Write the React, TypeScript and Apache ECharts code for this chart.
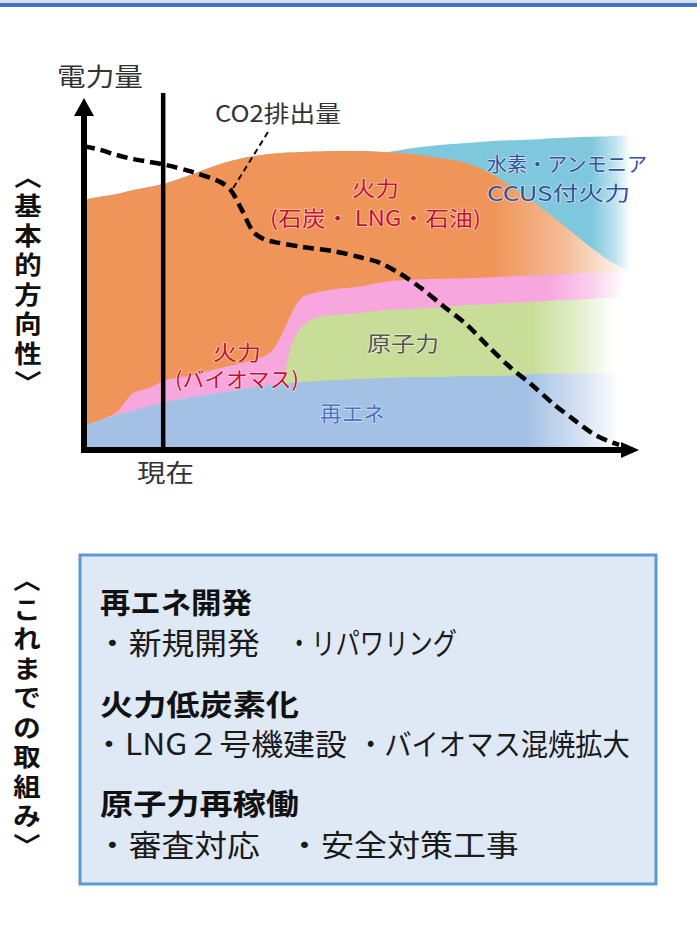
import React, { useEffect, useRef } from 'react';
import * as echarts from 'echarts';

// Horizontal positions (time, 0..100) where each band's upper edge is sampled
const timeSteps = [0, 3, 6, 9, 12, 15, 20, 25, 30, 34, 36, 38, 40, 43, 46, 50, 55, 60, 65, 70, 75, 80, 84, 88, 92, 96, 98, 100];

// Upper edge of each stacked band (electricity volume, 0..100)
const renewableTop = [7.0, 8.7, 10.2, 11.4, 12.8, 14.0, 15.5, 16.6, 18.1, 19.0, 19.2, 19.5, 19.8, 20.1, 20.4, 20.7, 21.0, 21.3, 21.3, 21.6, 21.6, 21.9, 22.2, 22.2, 22.2, 22.2, 22.2, 22.2];
const nuclearTop = [7.0, 8.7, 10.2, 11.4, 12.8, 14.0, 15.5, 16.6, 18.1, 19.0, 19.2, 30.6, 36.2, 38.8, 39.4, 39.9, 40.8, 41.1, 41.7, 42.3, 42.6, 43.1, 43.4, 43.7, 44.0, 44.3, 44.3, 44.5];
const biomassTop = [7.0, 8.7, 11.1, 16.6, 18.1, 20.4, 21.9, 23.9, 25.7, 28.3, 32.9, 39.9, 44.6, 46.1, 46.9, 47.5, 49.0, 49.6, 49.9, 50.1, 50.4, 50.7, 51.0, 51.3, 51.6, 51.9, 52.0, 52.2];
const thermalTop = [72.9, 73.8, 74.6, 75.8, 76.7, 77.8, 80.5, 83.4, 85.4, 86.3, 86.6, 86.7, 86.9, 87.0, 87.2, 87.2, 86.9, 86.3, 85.1, 83.7, 80.2, 74.9, 70.3, 65.3, 60.1, 55.4, 53.6, 52.2];
const hydrogenTop = [72.9, 73.8, 74.6, 75.8, 76.7, 77.8, 80.5, 83.4, 85.4, 86.3, 86.6, 86.7, 86.9, 87.0, 87.2, 87.2, 86.9, 88.0, 88.9, 89.5, 90.1, 90.4, 90.7, 91.0, 91.3, 91.5, 91.7, 91.8];

// CO2 emissions curve [time, level]
const co2Curve: [number, number][] = [
  [0, 88.6], [3, 87.5], [6, 86.0], [9, 84.8], [12, 84.0], [15, 83.1], [20, 81.0], [25, 78.1],
  [27, 75.5], [29, 69.7], [31, 63.6], [33, 61.4], [35, 60.6], [40, 59.2], [46, 57.9], [50, 56.4],
  [54, 54.7], [58, 51.3], [62, 46.9], [66, 41.7], [70, 36.7], [74, 30.3], [78, 24.2], [82, 19.0],
  [86, 13.4], [90, 8.5], [93, 5.0], [96, 2.6], [98, 1.5],
];
// Leader from the CO2 caption down to the curve
const co2Leader: [number, number][] = [[33.7, 92.7], [27.1, 75.8]];

// The "present" marker on the time axis
const NOW_X = 14.5;

// Text content
const axisTitle = '電力量';
const nowLabel = '現在';
const co2Label = 'CO2排出量';
const basicDirection = ['︿', '基', '本', '的', '方', '向', '性', '﹀'];
const effortsSoFar = ['︿', 'こ', 'れ', 'ま', 'で', 'の', '取', '組', 'み', '﹀'];
const effortHeadings = ['再エネ開発', '火力低炭素化', '原子力再稼働'];
const effortItems = [
  ['・新規開発', '・リパワリング'],
  ['・LNG２号機建設', '・バイオマス混焼拡大'],
  ['・審査対応', '・安全対策工事'],
];

const FONT = '"Noto Sans CJK JP", "Noto Sans CJK SC", sans-serif';

const measureCtx = document.createElement('canvas').getContext('2d') as CanvasRenderingContext2D;
function textWidth(text: string, size: number, weight: string | number) {
  measureCtx.font = `${weight} ${size}px ${FONT}`;
  return measureCtx.measureText(text).width;
}

// Text squeezed/stretched horizontally so it spans [left, right]
function fittedText(
  text: string, left: number, right: number, cy: number, size: number,
  weight: string | number, fill: string, extra: Record<string, unknown> = {},
) {
  const w = textWidth(text, size, weight);
  return {
    type: 'text',
    x: left,
    y: cy,
    scaleX: (right - left) / w,
    z: 100,
    style: {
      text, fontSize: size, fontWeight: weight, fontFamily: FONT, fill,
      align: 'left', textAlign: 'left', verticalAlign: 'middle', textVerticalAlign: 'middle',
      ...extra,
    },
  };
}

// Stacked characters read top to bottom
function verticalLabel(chars: string[], cx: number, cy: number) {
  return {
    type: 'text',
    x: cx,
    y: cy,
    scaleX: 1.12,
    z: 100,
    style: {
      text: chars.join('\n'), fontSize: 24.5, fontWeight: 'bold', fontFamily: FONT, fill: '#111',
      lineHeight: 29.5, align: 'center', textAlign: 'center', verticalAlign: 'middle', textVerticalAlign: 'middle',
    },
  };
}

function fade(stops: [number, string][]) {
  return new echarts.graphic.LinearGradient(0, 0, 1, 0, stops.map(([offset, color]) => ({ offset, color })));
}

function band(name: string, top: number[], fill: any, z: number) {
  return {
    name,
    type: 'line',
    data: timeSteps.map((t, i) => [t, top[i]]),
    smooth: 0.3,
    showSymbol: false,
    symbol: 'none',
    silent: true,
    z,
    lineStyle: { width: 0, opacity: 0 },
    areaStyle: { color: fill, opacity: 1, origin: 'start' },
  };
}

export default function App() {
  const ref = useRef<HTMLDivElement>(null);

  useEffect(() => {
    if (!ref.current) return;
    const chart = echarts.init(ref.current, undefined, { renderer: 'svg' });

    const option: any = {
      animation: false,
      backgroundColor: '#ffffff',
      grid: { left: 84, right: 67, top: 107, bottom: 480 },
      xAxis: {
        type: 'value', min: 0, max: 100, z: 10,
        axisLine: {
          show: true, symbol: ['none', 'triangle'], symbolSize: [16, 18],
          lineStyle: { color: '#000', width: 6, cap: 'square' },
        },
        axisTick: { show: false }, axisLabel: { show: false }, splitLine: { show: false },
      },
      yAxis: {
        type: 'value', min: 0, max: 100, z: 10,
        axisLine: {
          show: true, symbol: ['none', 'triangle'], symbolSize: [20, 18],
          lineStyle: { color: '#000', width: 6, cap: 'square' },
        },
        axisTick: { show: false }, axisLabel: { show: false }, splitLine: { show: false },
      },
      series: [
        band('水素・アンモニア CCUS付火力', hydrogenTop,
          fade([[0, '#7FC7DC'], [0.93, '#7FC7DC'], [0.975, '#C2E6F0'], [1, '#ffffff']]), 2),
        band('火力(石炭・LNG・石油)', thermalTop,
          fade([[0, '#F0955A'], [0.75, '#F0955A'], [0.88, '#F4BC96'], [0.95, '#FAE2D1'], [1, '#ffffff']]), 3),
        band('火力(バイオマス)', biomassTop,
          fade([[0, '#F7A6DE'], [0.85, '#F7A6DE'], [0.93, '#FAD0EE'], [0.99, '#ffffff'], [1, '#ffffff']]), 4),
        band('原子力', nuclearTop,
          fade([[0, '#C8DE98'], [0.82, '#C8DE98'], [0.91, '#E4EFCF'], [0.97, '#ffffff'], [1, '#ffffff']]), 5),
        band('再エネ', renewableTop,
          fade([[0, '#A3C0E5'], [0.81, '#A3C0E5'], [0.91, '#D5E2F3'], [0.98, '#ffffff'], [1, '#ffffff']]), 6),
        {
          name: 'CO2排出量',
          type: 'line',
          data: co2Curve,
          smooth: 0.3,
          showSymbol: false,
          symbol: 'none',
          silent: true,
          z: 8,
          lineStyle: { color: '#000', width: 4.5, type: [11, 6], cap: 'butt' },
          markLine: {
            silent: true,
            symbol: ['none', 'none'],
            label: { show: false },
            lineStyle: { color: '#111', width: 2, type: [6, 4] },
            data: [[{ coord: co2Leader[0] }, { coord: co2Leader[1] }]],
          },
        },
      ],
    };
    chart.setOption(option);

    const nowPx = chart.convertToPixel({ xAxisIndex: 0 }, NOW_X) as number;
    const basePx = chart.convertToPixel({ yAxisIndex: 0 }, 0) as number;

    const red = '#C8102E';
    const halo = { stroke: 'rgba(255,255,255,0.55)', lineWidth: 1.5 };

    const elements: any[] = [
      // header rule
      { type: 'rect', shape: { x: 0, y: 0, width: 697, height: 3 }, style: { fill: '#D5DDEE' } },
      { type: 'rect', shape: { x: 0, y: 3, width: 697, height: 4 }, style: { fill: '#4472C4' } },
      // "present" marker
      {
        type: 'line', z: 50,
        shape: { x1: nowPx, y1: 93, x2: nowPx, y2: basePx },
        style: { stroke: '#000', lineWidth: 4.5 },
      },
      fittedText(axisTitle, 57, 143, 75, 25, 'normal', '#333'),
      fittedText(nowLabel, 137, 194, 471, 25, 'normal', '#333'),
      fittedText(co2Label, 215, 341, 112, 23, 'normal', '#333'),
      fittedText('火力', 352, 399, 187, 21, 'normal', red, halo),
      fittedText('(石炭・ LNG・石油)', 270, 481, 217, 21, 'normal', red, halo),
      fittedText('水素・アンモニア', 487, 648, 164, 20, 'normal', '#34539C', halo),
      fittedText('CCUS付火力', 487, 630, 192, 20, 'normal', '#34539C', halo),
      fittedText('火力', 213, 261, 351, 21, 'normal', red, halo),
      fittedText('(バイオマス)', 175, 299, 378, 21, 'normal', red, halo),
      fittedText('原子力', 367, 439, 342, 21, 'normal', '#555', halo),
      fittedText('再エネ', 320, 385, 412, 21, 'normal', '#4A72C0', halo),
      verticalLabel(basicDirection, 28, 278),
      verticalLabel(effortsSoFar, 27, 711),
      // efforts box
      {
        type: 'rect', z: 1,
        shape: { x: 80, y: 555, width: 576, height: 329 },
        style: { fill: '#DEE9F5', stroke: '#5B9BD5', lineWidth: 3 },
      },
    ];

    const headingY = [602, 703, 802];
    const headingRight = [252, 299, 299];
    const itemY = [641, 742, 843];
    const itemSpans: [number, number][][] = [
      [[96, 260], [287, 457]],
      [[93, 347], [357, 630]],
      [[96, 260], [288, 519]],
    ];
    effortHeadings.forEach((h, i) => {
      elements.push(fittedText(h, 100, headingRight[i], headingY[i], 29, 'bold', '#111'));
      effortItems[i].forEach((item, j) => {
        const [l, r] = itemSpans[i][j];
        elements.push(fittedText(item, l, r, itemY[i], 30, 'normal', '#1a1a1a'));
      });
    });

    chart.setOption({ graphic: { elements } });

    return () => chart.dispose();
  }, []);

  return (
    <div
      ref={ref}
      style={{ position: 'fixed', left: 0, top: 0, width: 697, height: 930, background: '#fff' }}
    />
  );
}
